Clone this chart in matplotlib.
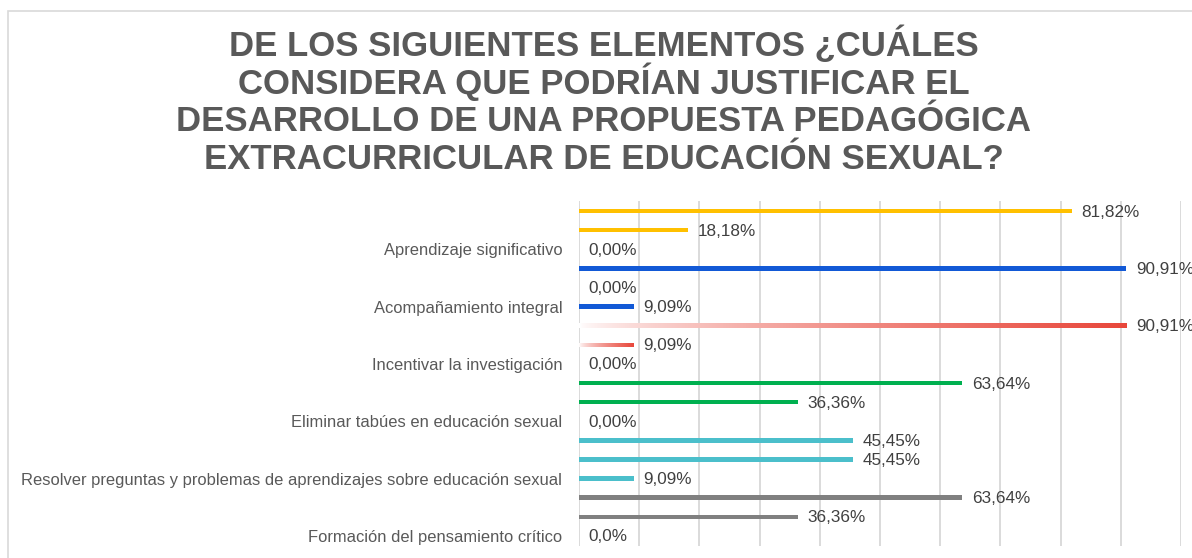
import numpy as np
import matplotlib
matplotlib.use("Agg")
import matplotlib.pyplot as plt
from matplotlib.patches import Rectangle
from matplotlib.colors import to_rgb

# Data (fraction of answers, three bars per item)
categories = ["Aprendizaje significativo",
              "Acompañamiento integral",
              "Incentivar la investigación",
              "Eliminar tabúes en educación sexual",
              "Resolver preguntas y problemas de aprendizajes sobre educación sexual",
              "Formación del pensamiento crítico"]
bar1 = [0.8182, 0.9091, 0.9091, 0.6364, 0.4545, 0.6364]
bar2 = [0.1818, 0.0000, 0.0909, 0.3636, 0.4545, 0.3636]
bar3 = [0.0000, 0.0909, 0.0000, 0.0000, 0.0909, 0.0000]
colors = ["#FFC000", "#1259D6", "#E8473B", "#00B050", "#4BBFCB", "#808080"]
gradient = [False, False, True, False, False, False]
# the last label in the source is written with one decimal
decimals = [[2, 2, 2], [2, 2, 2], [2, 2, 2], [2, 2, 2], [2, 2, 2], [2, 2, 1]]

title_lines = ["DE LOS SIGUIENTES ELEMENTOS ¿CUÁLES",
               "CONSIDERA QUE PODRÍAN JUSTIFICAR EL",
               "DESARROLLO DE UNA PROPUESTA PEDAGÓGICA",
               "EXTRACURRICULAR DE EDUCACIÓN SEXUAL?"]

plt.rcParams['font.family'] = ['Liberation Sans', 'DejaVu Sans']

W, H = 1192, 558
fig = plt.figure(figsize=(W / 100, H / 100), dpi=100)
fig.patch.set_facecolor("white")

# chart frame (cut off at the right and bottom in the source)
fig.add_artist(Rectangle((8 / W, -0.1), 1.2, 1 - 11 / H + 0.1, transform=fig.transFigure,
                         fill=False, edgecolor="#D9D9D9", linewidth=1.2))

# title, one line at a time so the spacing stays even
for k, line in enumerate(title_lines):
    fig.text(604 / W, 1 - (56 + 37.7 * k) / H, line, ha="center", va="baseline",
             fontsize=25, fontweight="bold", color="#595959")

ax = fig.add_axes([579 / W, 1 - 545.5 / H, (1181 - 579) / W, (545.5 - 201.5) / H])
ax.set_xlim(0, 1)
ax.set_ylim(17.5, -0.5)

bh = 0.24
for i in range(len(categories)):
    vals = [bar1[i], bar2[i], bar3[i]]
    for j, v in enumerate(vals):
        y = i * 3 + j
        if gradient[i]:
            rect = ax.barh(y, v, height=bh, color="none", edgecolor="none")[0]
            r, g, b = to_rgb(colors[i])
            ramp = np.linspace(0, 1, 256) ** 0.7
            img = np.ones((1, 256, 4))
            img[0, :, 0] = 1 - (1 - r) * ramp
            img[0, :, 1] = 1 - (1 - g) * ramp
            img[0, :, 2] = 1 - (1 - b) * ramp
            if v > 0:
                im = ax.imshow(img, extent=(0, v, y + bh / 2, y - bh / 2), aspect="auto",
                               interpolation="bilinear", zorder=3)
                im.set_clip_path(rect)
        else:
            ax.barh(y, v, height=bh, color=colors[i], zorder=3)
        txt = f"{v * 100:.{decimals[i][j]}f}%".replace(".", ",")
        ax.text(v + 0.016, y + 0.05, txt, ha="left", va="center", fontsize=12.3,
                color="#404040", zorder=4, clip_on=False)

ax.set_xticks(np.arange(0, 1.01, 0.1))
ax.grid(axis="x", color="#D4D4D4", linewidth=1.2)
ax.set_axisbelow(True)
ax.tick_params(axis="x", length=0, labelbottom=False)
ax.set_yticks([i * 3 + 2 for i in range(len(categories))])
ax.set_yticklabels(categories, fontsize=11.9, color="#595959")
ax.tick_params(axis="y", length=0, pad=12)
for s in ax.spines.values():
    s.set_visible(False)

fig.savefig("out.png", dpi=100)
